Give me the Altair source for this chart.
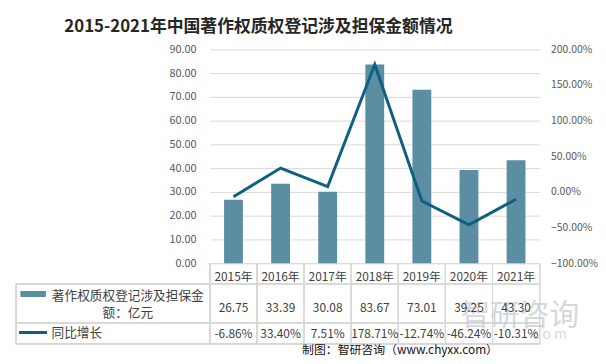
import altair as alt
import pandas as pd

years = ["2015年", "2016年", "2017年", "2018年", "2019年", "2020年", "2021年"]
amount = [26.75, 33.39, 30.08, 83.67, 73.01, 39.25, 43.30]
growth = [-6.86, 33.40, 7.51, 178.71, -12.74, -46.24, -10.31]
left_ticks = [0, 10, 20, 30, 40, 50, 60, 70, 80, 90]
right_ticks = [-1.0, -0.5, 0.0, 0.5, 1.0, 1.5, 2.0]

title_text = "2015-2021年中国著作权质权登记涉及担保金额情况"
series_bar = "著作权质权登记涉及担保金额：亿元"
series_line = "同比增长"
source_text = "制图：智研咨询（www.chyxx.com）"
watermark = "智研咨询"

df = pd.DataFrame({"year": years, "amount": amount, "growth": [g / 100 for g in growth]})
df["amount_label"] = [f"{v:.2f}" for v in amount]
df["growth_label"] = [f"{g:.2f}%" for g in growth]

W, H = 333, 216
FONT = "Noto Sans CJK SC"
GRID = "#D9D9D9"
BAR = "#5B8EA3"
LINE = "#0F5F7F"
TXT = "#404040"

xscale = alt.Scale(domain=years, paddingInner=0.6, paddingOuter=0.3)
xaxis = alt.Axis(title=None, labelAngle=0, domainColor=GRID, ticks=False, tickSize=0,
                 labelPadding=14, labelBaseline="middle", labelFont=FONT,
                 labelFontSize=12, labelColor=TXT)
xenc = alt.X("year:N", scale=xscale, sort=years, axis=xaxis)

base = alt.Chart(df)

bars = base.mark_bar(color=BAR).encode(
    x=xenc,
    y=alt.Y("amount:Q", scale=alt.Scale(domain=[0, 90]),
            axis=alt.Axis(title=None, values=left_ticks, format=".2f", grid=True,
                          gridColor=GRID, domain=False, ticks=False, tickSize=0,
                          labelPadding=14, labelFont=FONT, labelFontSize=11,
                          labelColor="#595959")),
)

line = base.mark_line(color=LINE, strokeWidth=3).encode(
    x=xenc,
    y=alt.Y("growth:Q", scale=alt.Scale(domain=[-1, 2]),
            axis=alt.Axis(title=None, orient="right", values=right_ticks, format=".2%",
                          grid=False, domain=False, ticks=False, tickSize=0,
                          labelPadding=11, labelFont=FONT, labelFontSize=10.5,
                          labelColor="#595959")),
)

# table grid lines
rules = []
step = W / 7
y_top_hdr, y_r1, y_r2, y_bot = H, 237, 276.3, 297.7
for k in range(8):
    rules.append(alt.Chart(df).mark_rule(color=GRID, strokeWidth=1).encode(
        x=alt.value(k * step), y=alt.value(y_top_hdr), y2=alt.value(y_bot)))
rules.append(alt.Chart(df).mark_rule(color=GRID, strokeWidth=1).encode(
    x=alt.value(-196), y=alt.value(y_r1), y2=alt.value(y_bot)))
for yy in (y_r1, y_r2, y_bot):
    rules.append(alt.Chart(df).mark_rule(color=GRID, strokeWidth=1).encode(
        x=alt.value(-196), x2=alt.value(W), y=alt.value(yy)))

wm = alt.Chart(pd.DataFrame({"t": [watermark]})).mark_text(
    font=FONT, fontSize=30, color="#C9CFD6", opacity=0.8,
    align="center", baseline="middle", x=313, y=269
).encode(text="t:N")
wm2 = alt.Chart(pd.DataFrame({"t": ["c o m"]})).mark_text(
    font=FONT, fontSize=14, color="#C9CFD6", opacity=0.8, align="center",
    baseline="middle", x=343, y=289
).encode(text="t:N")

val1 = base.mark_text(font=FONT, fontSize=12, color=TXT, baseline="middle").encode(
    x=xenc, y=alt.value(261), text="amount_label:N")
val2 = base.mark_text(font=FONT, fontSize=12, color=TXT, baseline="middle").encode(
    x=xenc, y=alt.value(288), text="growth_label:N")

lab_top = series_bar[:12]
lab_bot = series_bar[12:]
lab1a = alt.Chart(pd.DataFrame({"t": [lab_top]})).mark_text(
    font=FONT, fontSize=12.8, color=TXT, align="center", baseline="middle").encode(
    x=alt.value(-83), y=alt.value(248.7), text="t:N")
lab1b = alt.Chart(pd.DataFrame({"t": [lab_bot]})).mark_text(
    font=FONT, fontSize=12.8, color=TXT, align="center", baseline="middle").encode(
    x=alt.value(-83), y=alt.value(266.3), text="t:N")
lab2 = alt.Chart(pd.DataFrame({"t": [series_line]})).mark_text(
    font=FONT, fontSize=12.8, color=TXT, align="left", baseline="middle").encode(
    x=alt.value(-160), y=alt.value(287), text="t:N")

sw_bar = alt.Chart(df).mark_rect(color=BAR).encode(
    x=alt.value(-191), x2=alt.value(-166.3), y=alt.value(244.3), y2=alt.value(249.7))
sw_line = alt.Chart(df).mark_rule(color=LINE, strokeWidth=2.5).encode(
    x=alt.value(-192.3), x2=alt.value(-165), y=alt.value(286.3))

title = alt.Chart(pd.DataFrame({"t": [title_text]})).mark_text(
    font=FONT, fontSize=17, fontWeight="bold", color="#262626", align="center",
    baseline="middle").encode(x=alt.value(49), y=alt.value(-23), text="t:N")

source = alt.Chart(pd.DataFrame({"t": [source_text]})).mark_text(
    font=FONT, fontSize=12, color="#111111", align="center", baseline="middle").encode(
    x=alt.value(192), y=alt.value(304), text="t:N")

chart = alt.layer(
    bars, line, *rules, wm, wm2, val1, val2, lab1a, lab1b, lab2, sw_bar, sw_line, title, source
).resolve_scale(y="independent").properties(
    width=W, height=H,
    autosize=alt.AutoSizeParams(type="none"),
    padding={"left": 204, "top": 40, "right": 59, "bottom": 94},
    background="white",
).configure_view(stroke=None)

chart.save("out.html", embed_options={"renderer": "svg", "actions": False})
